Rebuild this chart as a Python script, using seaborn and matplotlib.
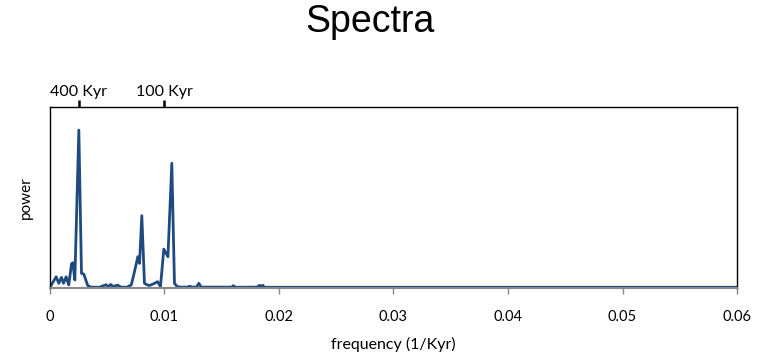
import matplotlib
matplotlib.use("Agg")
import matplotlib.pyplot as plt
import seaborn as sns
import pandas as pd

# frequency (1/Kyr) and spectral power (relative)
freq = [0.0000, 0.00054, 0.00077, 0.0010, 0.00118, 0.00141, 0.00164, 0.00188,
        0.0020, 0.00217, 0.00252, 0.00275, 0.00295, 0.0033, 0.0036, 0.0043,
        0.0049, 0.0051, 0.0053, 0.0055, 0.0059, 0.0062, 0.0067, 0.0071,
        0.00738, 0.00767, 0.00782, 0.00802, 0.00825, 0.0085, 0.0087, 0.0091,
        0.0094, 0.00965, 0.00994, 0.0103, 0.01064, 0.01087, 0.0111, 0.0114,
        0.0120, 0.0122, 0.0124, 0.0128, 0.0130, 0.0132, 0.0159, 0.0160,
        0.0162, 0.0181, 0.0183, 0.0184, 0.0186, 0.0187, 0.0300, 0.0450, 0.0600]
power = [0.004, 0.062, 0.026, 0.059, 0.026, 0.062, 0.017, 0.133,
         0.140, 0.044, 0.873, 0.081, 0.077, 0.013, 0.005, 0.004,
         0.018, 0.006, 0.020, 0.008, 0.016, 0.005, 0.004, 0.017,
         0.090, 0.173, 0.136, 0.400, 0.026, 0.017, 0.014, 0.025,
         0.035, 0.008, 0.215, 0.173, 0.690, 0.026, 0.008, 0.005,
         0.005, 0.010, 0.005, 0.005, 0.026, 0.005, 0.005, 0.013,
         0.004, 0.005, 0.015, 0.008, 0.015, 0.004, 0.004, 0.004, 0.004]

xticks = [0, 0.01, 0.02, 0.03, 0.04, 0.05, 0.06]
xtick_labels = ["0", "0.01", "0.02", "0.03", "0.04", "0.05", "0.06"]
period_ticks = [0.0025, 0.01]
period_labels = ["400 Kyr", "100 Kyr"]

sns.set_style("white")
plt.rcParams["font.family"] = ["Lato", "DejaVu Sans"]
plt.rcParams["text.color"] = "black"
plt.rcParams["axes.labelcolor"] = "black"
plt.rcParams["xtick.color"] = "black"

df = pd.DataFrame({"frequency": freq, "power": power})

fig = plt.figure(figsize=(7.62, 3.56), dpi=100)
ax = fig.add_axes([0.0656, 0.191, 0.9016, 0.508])
sns.lineplot(data=df, x="frequency", y="power", ax=ax, color="#1F4A80",
             linewidth=2.0)

ax.set_xlim(0, 0.06)
ax.set_ylim(0, 1)
ax.set_xticks(xticks)
ax.set_xticklabels(xtick_labels, fontsize=10.5)
ax.set_yticks([])
ax.tick_params(axis="x", direction="out", length=4, width=1, color="#888888",
               labelcolor="black", pad=12, bottom=True)
for side in ["left", "top", "right"]:
    ax.spines[side].set_color("black")
    ax.spines[side].set_linewidth(1.0)
ax.spines["bottom"].set_color("#888888")
ax.spines["bottom"].set_linewidth(1.5)

ax.set_xlabel("frequency (1/Kyr)", fontsize=11.5, labelpad=9, color="black")
ax.set_ylabel("power", fontsize=11, labelpad=12, color="black")

top = ax.secondary_xaxis("top")
top.set_xticks(period_ticks)
top.set_xticklabels(period_labels, fontsize=11.5)
top.tick_params(direction="out", length=5, width=1.8, color="black",
                labelcolor="black", pad=1)
top.spines["top"].set_visible(False)

fig.suptitle("Spectra", fontsize=27, family="Liberation Sans", color="black",
             x=0.485, y=0.99)

fig.savefig("out.png", dpi=100)
